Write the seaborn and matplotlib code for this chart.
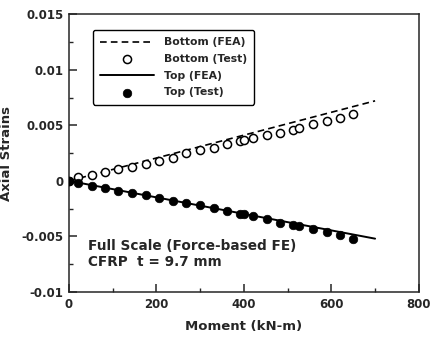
import numpy as np
import pandas as pd
import matplotlib
matplotlib.use("Agg")
import matplotlib.pyplot as plt
import seaborn as sns

# ---- data ----
moment_fea = [0, 700]
bottom_fea = [0.0, 0.0072]
top_fea = [0.0, -0.0052]

moment_test = [0, 21, 52, 82, 112, 143, 175, 205, 238, 268, 300, 331,
               361, 392, 400, 420, 452, 482, 512, 526, 558, 589, 619, 649]
bottom_test = [0.0, 0.00037, 0.00052, 0.0008, 0.00106, 0.00127, 0.0015, 0.0018,
               0.0021, 0.0025, 0.0028, 0.0030, 0.0033, 0.0036, 0.0037, 0.0039,
               0.0041, 0.0043, 0.0046, 0.0048, 0.0051, 0.0054, 0.0057, 0.0060]
top_test = [0.0, -0.0002, -0.00045, -0.00067, -0.0009, -0.0011, -0.0013, -0.0015,
            -0.0018, -0.002, -0.0022, -0.00247, -0.00269, -0.00298, -0.00301,
            -0.00316, -0.00345, -0.00376, -0.00396, -0.00403, -0.00436,
            -0.00463, -0.00487, -0.00526]

x_ticks = [0, 200, 400, 600, 800]
y_ticks = [-0.01, -0.005, 0, 0.005, 0.01, 0.015]
y_tick_labels = ["-0.01", "-0.005", "0", "0.005", "0.01", "0.015"]

fea = pd.DataFrame({"Moment": moment_fea, "Bottom": bottom_fea, "Top": top_fea})
test = pd.DataFrame({"Moment": moment_test, "Bottom": bottom_test, "Top": top_test})

# ---- style ----
sns.set_style("ticks")
plt.rcParams["font.family"] = ["DejaVu Sans"]
plt.rcParams["font.weight"] = "bold"
plt.rcParams["axes.unicode_minus"] = False

fig = plt.figure(figsize=(4.3, 3.37), dpi=100)
ax = fig.add_axes([0.1605, 0.1335, 0.8135, 0.8245])

sns.lineplot(data=fea, x="Moment", y="Bottom", ax=ax, color="black", lw=1.2,
             label="Bottom (FEA)", dashes=False, linestyle=(0, (4, 2.5)))
sns.scatterplot(data=test, x="Moment", y="Bottom", ax=ax, marker="o",
                facecolor="white", edgecolor="black", linewidth=1.1, s=34,
                label="Bottom (Test)", zorder=3)
sns.lineplot(data=fea, x="Moment", y="Top", ax=ax, color="black", lw=1.4,
             label="Top (FEA)")
sns.scatterplot(data=test, x="Moment", y="Top", ax=ax, marker="o",
                color="black", edgecolor="black", s=38,
                label="Top (Test)", zorder=3)

ax.set_xlim(0, 800)
ax.set_ylim(-0.01, 0.015)
ax.set_xticks(x_ticks)
ax.set_xticks([100, 300, 500, 700], minor=True)
ax.set_yticks(y_ticks)
ax.set_yticklabels(y_tick_labels)
ax.set_yticks([-0.0075, -0.0025, 0.0025, 0.0075, 0.0125], minor=True)
ax.tick_params(which="major", direction="in", length=6, width=1.1,
               labelsize=8.5, pad=4)
ax.tick_params(which="minor", direction="in", length=3, width=1.0)
for lab in ax.get_xticklabels() + ax.get_yticklabels():
    lab.set_fontweight("bold")
for sp in ax.spines.values():
    sp.set_visible(True)
    sp.set_linewidth(1.1)

ax.set_xlabel("Moment (kN-m)", fontsize=9.5, fontweight="bold", labelpad=7)
ax.set_ylabel("Axial Strains", fontsize=9.5, fontweight="bold", labelpad=6)

ax.text(43, -0.00586, "Full Scale (Force-based FE)", fontsize=9.8,
        fontweight="bold", va="center", ha="left")
ax.text(43, -0.0073, "CFRP  t = 9.7 mm", fontsize=9.8,
        fontweight="bold", va="center", ha="left")

leg = ax.legend(loc="upper left", bbox_to_anchor=(0.069, 0.942),
                borderaxespad=0, fontsize=7.8, handlelength=5.0,
                labelspacing=0.62, frameon=True, fancybox=True,
                edgecolor="black", framealpha=1, borderpad=0.65,
                handletextpad=0.9)
leg.get_frame().set_linewidth(1.0)
for t in leg.get_texts():
    t.set_fontweight("bold")

fig.savefig("out.png", dpi=100)
